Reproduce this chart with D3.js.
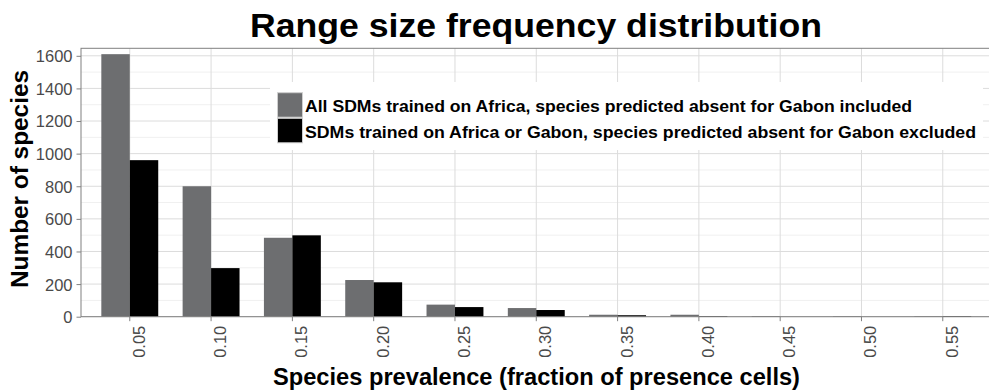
<!DOCTYPE html>
<html>
<head>
<meta charset="utf-8">
<script src="https://cdn.jsdelivr.net/npm/d3@7"></script>
<style>
  html, body { margin: 0; padding: 0; background: #fff; }
  svg { display: block; }
  text { font-family: "Liberation Sans", Arial, Helvetica, sans-serif; }
</style>
</head>
<body>
<svg id="chart" width="989" height="390"></svg>
<script>
// Prevalence classes (fraction of presence cells)
const categories = ["0.05", "0.10", "0.15", "0.20", "0.25", "0.30", "0.35", "0.40", "0.45", "0.50", "0.55"];
// Number of species per class, one array per model set
const allAfrica = [1610, 800, 484, 225, 74, 53, 12, 12, 4, 3, 3];
const africaOrGabon = [960, 298, 499, 211, 59, 41, 9, 4, 0, 0, 4];
const seriesNames = [
  "All SDMs trained on Africa, species predicted absent for Gabon included",
  "SDMs trained on Africa or Gabon, species predicted absent for Gabon excluded"
];
const seriesColors = ["#6d6e70", "#000000"];
const yTicks = [0, 200, 400, 600, 800, 1000, 1200, 1400, 1600];
const yMinor = [100, 300, 500, 700, 900, 1100, 1300, 1500];

const svg = d3.select("#chart");
const panel = { left: 81, top: 48.3, bottom: 316.7 };
const step = 81.3;
const panelRight = panel.left + step * (categories.length + 0.2);

const x = d3.scaleBand()
  .domain(categories)
  .range([panel.left, panelRight])
  .paddingInner(0)
  .paddingOuter(0.1);

const xSub = d3.scaleBand()
  .domain([0, 1])
  .range([0.15 * x.bandwidth(), 0.85 * x.bandwidth()])
  .padding(0);

const y = d3.scaleLinear().domain([0, 1646]).range([panel.bottom, panel.top]);

// Panel grid
const grid = svg.append("g");
grid.selectAll("line.minor")
  .data(yMinor).join("line")
  .attr("x1", panel.left).attr("x2", panelRight)
  .attr("y1", d => y(d)).attr("y2", d => y(d))
  .attr("stroke", "#f0f0f0").attr("stroke-width", 1);
grid.selectAll("line.hmajor")
  .data(yTicks).join("line")
  .attr("x1", panel.left).attr("x2", panelRight)
  .attr("y1", d => y(d)).attr("y2", d => y(d))
  .attr("stroke", "#dcdcdc").attr("stroke-width", 1);
grid.selectAll("line.vmajor")
  .data(categories).join("line")
  .attr("x1", d => x(d) + x.bandwidth() / 2).attr("x2", d => x(d) + x.bandwidth() / 2)
  .attr("y1", panel.top).attr("y2", panel.bottom)
  .attr("stroke", "#dcdcdc").attr("stroke-width", 1);

// Bars
const rows = categories.map((c, i) => ({ cat: c, vals: [allAfrica[i], africaOrGabon[i]] }));
const groups = svg.append("g").selectAll("g")
  .data(rows).join("g")
  .attr("transform", d => `translate(${x(d.cat)},0)`);
groups.selectAll("rect")
  .data(d => d.vals.map((v, k) => ({ v, k })))
  .join("rect")
  .attr("x", d => xSub(d.k))
  .attr("width", xSub.bandwidth())
  .attr("y", d => y(d.v))
  .attr("height", d => y(0) - y(d.v))
  .attr("fill", d => seriesColors[d.k]);

// Panel border
svg.append("rect")
  .attr("x", panel.left).attr("y", panel.top)
  .attr("width", panelRight - panel.left).attr("height", panel.bottom - panel.top)
  .attr("fill", "none").attr("stroke", "#808080").attr("stroke-width", 1);

// Y axis
const yAxis = svg.append("g").attr("transform", `translate(${panel.left},0)`)
  .call(d3.axisLeft(y).tickValues(yTicks).tickSize(4.5).tickPadding(4).tickFormat(d3.format("d")));
yAxis.select(".domain").remove();
yAxis.selectAll(".tick line").attr("stroke", "#808080");
yAxis.selectAll(".tick text")
  .attr("fill", "#4a4a4a").style("font-size", "16.5px").attr("dy", "0.36em");

// X axis
const xAxis = svg.append("g").attr("transform", `translate(0,${panel.bottom})`)
  .call(d3.axisBottom(x).tickSize(4.5).tickPadding(0));
xAxis.select(".domain").remove();
xAxis.selectAll(".tick line").attr("stroke", "#808080");
xAxis.selectAll(".tick text")
  .attr("fill", "#4a4a4a").style("font-size", "16.5px")
  .attr("text-anchor", "end")
  .attr("transform", "translate(15,9) rotate(-90)")
  .attr("x", 0).attr("y", 0).attr("dy", 0);

// Legend
const legend = svg.append("g");
legend.append("rect")
  .attr("x", 270).attr("y", 82).attr("width", 713).attr("height", 68)
  .attr("fill", "#ffffff");
const keyY = [92.7, 118.3];
const textW = [607, 671];
seriesNames.forEach((name, k) => {
  legend.append("rect")
    .attr("x", 277.5).attr("y", keyY[k])
    .attr("width", 25).attr("height", 24.5)
    .attr("fill", seriesColors[k])
    .attr("stroke", "#cfcfcf").attr("stroke-width", 1);
  legend.append("text")
    .attr("x", 305).attr("y", keyY[k] + 19.5)
    .attr("font-weight", "bold").style("font-size", "17px")
    .attr("textLength", textW[k]).attr("lengthAdjust", "spacingAndGlyphs")
    .attr("fill", "#000")
    .text(name);
});

// Titles
svg.append("text")
  .attr("x", 250).attr("y", 37)
  .attr("font-weight", "bold").style("font-size", "33px")
  .attr("textLength", 572).attr("lengthAdjust", "spacingAndGlyphs")
  .text("Range size frequency distribution");

svg.append("text")
  .attr("x", 273).attr("y", 385)
  .attr("font-weight", "bold").style("font-size", "23.5px")
  .attr("textLength", 527).attr("lengthAdjust", "spacingAndGlyphs")
  .text("Species prevalence (fraction of presence cells)");

svg.append("text")
  .attr("transform", "translate(28,288) rotate(-90)")
  .attr("font-weight", "bold").style("font-size", "23.5px")
  .attr("textLength", 218).attr("lengthAdjust", "spacingAndGlyphs")
  .text("Number of species");
</script>
</body>
</html>
